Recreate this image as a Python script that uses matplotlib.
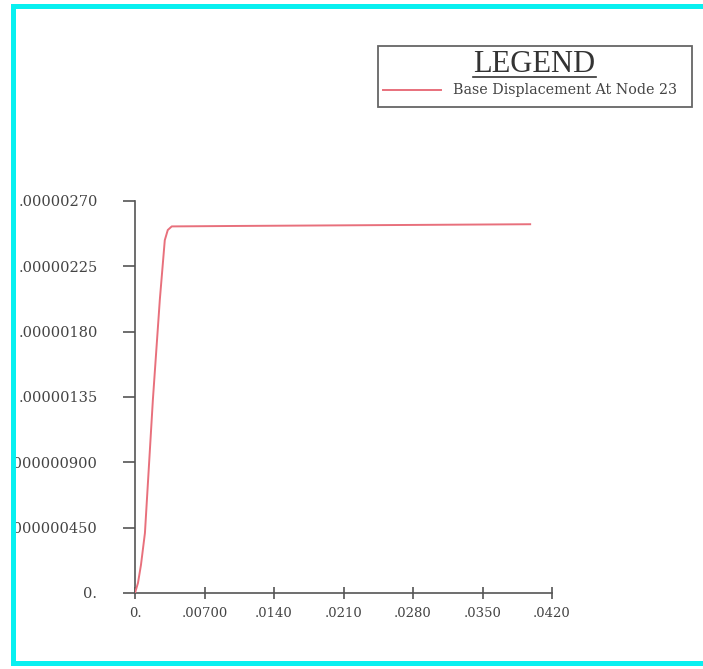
import matplotlib
matplotlib.use("Agg")
import matplotlib.pyplot as plt
from matplotlib.patches import Rectangle
from matplotlib.lines import Line2D

# ---- data ----
time = [0.0, 0.0003, 0.0006, 0.0010, 0.0018, 0.0025, 0.0030, 0.0033, 0.0037,
        0.0100, 0.0200, 0.0300, 0.0398]
disp = [0.0, 0.069e-6, 0.193e-6, 0.413e-6, 1.33e-6, 2.02e-6, 2.43e-6, 2.50e-6,
        2.525e-6, 2.528e-6, 2.532e-6, 2.536e-6, 2.54e-6]
series_label = "Base Displacement At Node 23"

x_ticks = [0.0, 0.007, 0.014, 0.021, 0.028, 0.035, 0.042]
x_tick_labels = ["0.", ".00700", ".0140", ".0210", ".0280", ".0350", ".0420"]
y_ticks = [0.0, 0.45e-6, 0.90e-6, 1.35e-6, 1.80e-6, 2.25e-6, 2.70e-6]
y_tick_labels = ["0.", ".000000450", ".000000900", ".00000135", ".00000180",
                 ".00000225", ".00000270"]

W, H = 703, 669
fig = plt.figure(figsize=(W / 100, H / 100), dpi=100)
fig.patch.set_facecolor("white")

def fx(px):
    return px / W

def fy(py):
    return (H - py) / H

ax = fig.add_axes([fx(135), fy(593), fx(552) - fx(135), fy(201) - fy(593)])
line_color = "#e8707c"
ax.plot(time, disp, color=line_color, lw=1.4, zorder=3)
ax.set_xlim(0, 0.042)
ax.set_ylim(0, 2.7e-6)

for s in ["top", "right"]:
    ax.spines[s].set_visible(False)
for s in ["left", "bottom"]:
    ax.spines[s].set_color("#555555")
    ax.spines[s].set_linewidth(1.2)

ax.set_xticks(x_ticks)
ax.set_xticklabels(x_tick_labels)
ax.set_yticks(y_ticks)
ax.set_yticklabels(y_tick_labels)
ax.tick_params(axis="x", direction="inout", length=8, width=1.2, color="#555555",
               pad=6, labelsize=9.5, labelcolor="#444444")
ax.tick_params(axis="y", direction="out", length=9, width=1.2, color="#555555",
               pad=18, labelsize=10.5, labelcolor="#444444")
for lab in ax.get_xticklabels() + ax.get_yticklabels():
    lab.set_fontfamily("DejaVu Serif")

# ---- legend box ----
fig.patches.append(Rectangle((fx(378), fy(107)), fx(692) - fx(378), fy(46) - fy(107),
                             transform=fig.transFigure, fill=False,
                             edgecolor="#666666", lw=1.3, zorder=5))
fig.text(fx(534), fy(64), "LEGEND", ha="center", va="center",
         fontfamily="Liberation Serif", fontsize=22, color="#333333", zorder=6)
fig.lines.append(Line2D([fx(473), fx(596)], [fy(77), fy(77)], transform=fig.transFigure,
                        color="#333333", lw=1.2, zorder=6))
fig.lines.append(Line2D([fx(383), fx(441)], [fy(90), fy(90)], transform=fig.transFigure,
                        color=line_color, lw=1.4, zorder=6))
fig.text(fx(453), fy(90), series_label, ha="left", va="center",
         fontfamily="DejaVu Serif", fontsize=10.3, color="#444444", zorder=6)

# ---- cyan frame (with white outside to clip) ----
def frect(x0, y0, x1, y1, color, z):
    fig.patches.append(Rectangle((fx(x0), fy(y1)), fx(x1) - fx(x0), fy(y0) - fy(y1),
                                 transform=fig.transFigure, facecolor=color,
                                 edgecolor="none", zorder=z))

frect(0, 0, 11, H, "white", 20)
frect(0, 0, W, 4, "white", 20)
frect(0, 666, W, H, "white", 20)
cyan = "#08f0f0"
frect(11, 4, 16, 666, cyan, 21)
frect(11, 4, W, 9, cyan, 21)
frect(11, 661, W, 666, cyan, 21)

fig.savefig("out.png", dpi=100, facecolor="white")
